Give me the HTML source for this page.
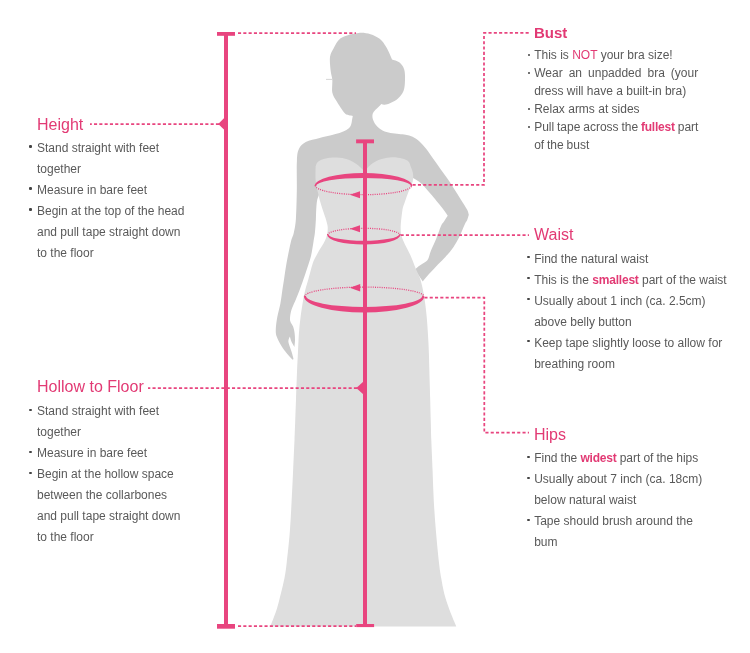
<!DOCTYPE html>
<html><head><meta charset="utf-8"><title>How to measure</title>
<style>
html,body{margin:0;padding:0;background:#fff}
#w{will-change:transform;position:relative;width:750px;height:653px;overflow:hidden;background:#fff;font-family:"Liberation Sans",Arial,sans-serif;color:#595959}
.t{position:absolute;font-size:16px;line-height:20px;color:#e23a74;white-space:nowrap;margin:0;font-weight:normal}
.b{position:absolute;font-size:12px;line-height:21px;margin:0;padding:0;list-style:none;white-space:nowrap}
.b li{position:relative;padding-left:7px}
.b li i{position:absolute;left:var(--bx);top:var(--by);width:2.4px;height:2.4px;border-radius:1.1px;background:#444;}
.p{color:#e23a74}
b.p{letter-spacing:-0.2px}
</style></head><body>
<div id="w">
<svg width="750" height="653" viewBox="0 0 750 653" style="position:absolute;left:0;top:0">
<path d="M350.6 34.2 C352.4 34.0 358.0 32.7 361.3 32.7 C364.6 32.7 367.4 33.2 370.5 34.2 C373.6 35.2 377.1 36.8 379.7 38.8 C382.3 40.8 384.2 43.9 385.9 46.4 C387.6 48.9 388.7 51.8 389.7 54.0 C390.7 56.2 391.6 58.6 392.0 59.5 C393.3 60.0 397.6 60.9 399.6 62.5 C401.6 64.2 403.3 66.5 404.2 69.4 C405.1 72.3 405.1 76.4 405.0 80.0 C404.9 83.6 404.7 87.8 403.5 90.9 C402.3 94.0 399.9 96.6 398.0 98.5 C396.1 100.4 394.0 101.3 392.0 102.3 C390.0 103.3 387.7 104.3 385.9 104.6 C384.1 104.9 382.1 104.0 381.3 103.9 C380.7 104.6 379.0 106.5 377.7 107.8 C376.4 109.1 374.5 110.6 373.6 112.0 C372.7 113.4 372.3 114.7 372.4 116.3 C372.4 117.9 373.0 119.9 373.9 121.7 C374.8 123.5 376.2 125.5 377.7 127.0 C379.2 128.5 380.9 129.7 383.0 130.7 C385.1 131.7 387.8 132.4 390.5 132.9 C393.2 133.4 396.5 133.6 399.0 133.9 C401.5 134.2 403.4 134.2 405.7 134.7 C408.0 135.2 410.3 135.7 412.6 136.8 C414.9 137.9 417.2 139.4 419.5 141.5 C421.8 143.6 424.0 146.2 426.3 149.1 C428.6 152.0 430.9 155.6 433.2 158.8 C435.5 162.0 437.8 165.2 440.1 168.4 C442.4 171.6 444.7 174.8 447.0 178.1 C449.3 181.4 451.6 184.8 453.9 188.4 C456.2 192.0 458.6 195.8 460.8 199.4 C463.0 203.0 465.9 207.2 467.2 209.8 C468.5 212.4 468.5 214.0 468.8 214.8 C468.5 215.7 467.9 218.4 467.2 220.0 C466.5 221.6 466.0 221.7 464.7 224.5 C463.4 227.3 461.3 233.0 459.4 236.8 C457.5 240.6 455.5 244.2 453.2 247.5 C450.9 250.8 448.2 253.9 445.6 256.7 C443.1 259.5 440.5 261.7 437.9 264.4 C435.3 267.1 432.7 270.0 430.2 272.8 C427.7 275.6 424.0 280.0 422.8 281.4 L415.0 270.0 C415.4 269.6 415.7 268.6 417.2 267.4 C418.7 266.2 422.3 264.1 424.1 262.8 C425.9 261.5 426.9 261.3 428.0 259.3 C429.1 257.3 429.6 254.1 431.0 250.6 C432.4 247.1 434.7 242.4 436.4 238.3 C438.1 234.2 439.7 228.8 441.0 226.0 C442.3 223.2 442.9 223.2 444.0 221.5 C445.1 219.8 447.1 216.8 447.7 215.8 C447.0 214.8 446.0 212.8 443.4 209.5 C440.8 206.2 436.0 200.2 432.3 195.8 C428.6 191.5 424.5 186.4 421.3 183.4 C418.1 180.4 414.4 178.8 413.0 177.9 L405.0 192.0 L322.0 192.0 L318.6 195.5 C318.3 196.4 317.4 198.6 317.0 201.0 C316.6 203.4 316.4 207.0 316.2 210.0 C316.0 213.0 316.1 215.2 315.9 219.0 C315.7 222.8 315.3 229.1 314.9 232.8 C314.5 236.5 314.2 237.1 313.6 241.0 C313.0 244.9 312.0 251.7 311.0 256.0 C310.0 260.3 308.7 263.7 307.6 267.0 C306.5 270.3 305.9 272.3 304.6 276.0 C303.3 279.7 301.5 285.0 300.0 289.0 C298.5 293.0 296.7 297.3 295.6 300.0 C294.5 302.7 294.2 303.1 293.4 305.0 C292.6 306.9 291.6 308.9 291.0 311.5 C290.4 314.1 289.7 318.1 290.1 320.6 C290.5 323.2 292.4 324.7 293.2 326.8 C293.9 328.9 294.3 330.8 294.6 333.0 C294.9 335.2 295.0 337.7 295.0 340.0 C295.0 342.3 294.5 345.8 294.4 347.0 C293.9 346.1 292.2 343.2 291.4 341.5 C290.6 339.8 290.1 337.4 289.8 336.6 C289.6 337.5 288.1 339.6 288.4 342.0 C288.7 344.4 290.6 348.6 291.4 351.3 C292.2 354.1 293.2 357.1 293.4 358.5 C293.6 359.9 292.7 359.6 292.6 359.8 C291.7 358.8 289.0 356.1 287.1 353.7 C285.2 351.3 282.7 348.0 281.0 345.2 C279.3 342.4 277.6 339.3 276.7 336.6 C275.8 333.9 275.7 332.5 275.8 329.2 C275.9 325.9 276.5 321.3 277.3 317.0 C278.1 312.7 279.6 307.8 280.4 303.5 C281.2 299.2 281.6 295.3 282.2 291.2 C282.8 287.1 283.4 283.6 284.1 279.0 C284.8 274.4 285.4 269.4 286.5 263.3 C287.6 257.2 289.6 247.3 290.8 242.2 C292.0 237.1 293.0 236.7 293.8 232.8 C294.6 228.9 295.4 225.9 295.9 219.0 C296.4 212.1 296.6 201.0 296.8 191.4 C297.0 181.8 296.5 168.4 296.9 161.3 C297.2 154.2 297.4 152.2 298.9 149.0 C300.4 145.8 302.4 143.8 305.8 142.0 C309.2 140.2 315.1 139.2 319.6 138.0 C324.1 136.8 329.4 135.8 333.0 134.8 C336.6 133.9 338.9 133.2 341.4 132.3 C343.9 131.4 346.2 130.3 347.8 129.1 C349.4 127.9 350.3 126.5 351.0 124.9 C351.7 123.3 351.8 121.0 352.1 119.5 C352.4 118.0 352.7 116.6 352.8 116.0 C352.1 115.9 350.3 115.8 348.9 115.3 C347.5 114.8 346.6 115.4 344.6 113.1 C342.6 110.8 338.9 105.0 336.8 101.6 C334.8 98.1 333.1 96.0 332.3 92.4 C331.6 88.8 332.6 83.6 332.3 80.0 C332.0 76.4 331.1 74.8 330.7 71.0 C330.3 67.2 329.5 60.8 330.0 57.0 C330.5 53.2 332.1 51.0 333.8 48.0 C335.5 45.0 337.2 41.1 340.0 38.8 C342.8 36.5 348.8 35.0 350.6 34.2 Z" fill="#cbcbcb"/>
<path d="M326 79.4H332" stroke="#cbcbcb" stroke-width="0.8" fill="none"/>
<path d="M315.6 166.5 C316.0 165.7 316.3 163.0 318.0 161.7 C319.7 160.4 322.9 159.2 326.0 158.5 C329.1 157.8 333.1 157.4 336.8 157.6 C340.5 157.8 344.6 158.3 348.0 159.5 C351.4 160.7 354.2 162.5 357.0 164.5 C359.8 166.5 363.2 170.2 364.5 171.4 C365.6 170.2 368.4 166.5 371.0 164.5 C373.6 162.5 376.5 160.7 380.0 159.5 C383.5 158.3 388.3 157.4 392.0 157.2 C395.7 157.0 399.2 157.8 402.0 158.5 C404.8 159.2 407.1 160.2 408.5 161.5 C409.9 162.8 410.2 165.2 410.5 166.0 C410.9 167.2 412.5 170.4 412.9 173.0 C413.3 175.6 413.4 178.4 412.7 181.5 C412.0 184.6 409.9 188.3 408.6 191.6 C407.3 194.9 406.1 198.3 405.0 201.5 C403.9 204.7 403.0 206.2 402.3 211.0 C401.6 215.8 400.5 225.0 400.7 230.0 C400.9 235.0 401.8 236.8 403.4 241.0 C405.0 245.2 408.2 250.4 410.3 255.0 C412.4 259.6 414.1 264.6 415.8 268.8 C417.5 273.0 419.2 275.2 420.6 280.0 C422.0 284.8 423.3 291.4 424.3 297.5 C425.3 303.6 426.1 310.6 426.7 316.8 C427.3 323.1 427.6 328.9 428.0 335.0 C428.4 341.1 428.7 347.3 428.9 353.5 C429.1 359.7 429.2 364.3 429.4 372.0 C429.6 379.7 430.0 391.2 430.2 399.5 C430.4 407.8 430.6 415.1 430.8 421.8 C431.0 428.6 431.0 431.9 431.3 440.0 C431.6 448.1 432.2 460.5 432.6 470.7 C433.0 480.9 433.2 491.1 433.8 501.3 C434.4 511.5 435.1 521.8 436.0 532.0 C436.9 542.2 438.1 555.0 439.0 562.7 C439.9 570.4 440.3 572.9 441.2 578.0 C442.1 583.1 442.9 588.3 444.2 593.4 C445.5 598.5 447.4 603.9 449.1 608.7 C450.8 613.5 453.2 619.0 454.4 622.0 C455.6 625.0 456.0 625.8 456.3 626.6 L270.3 626.6 C270.6 625.8 270.9 625.0 272.0 622.0 C273.1 619.0 275.4 613.5 276.9 608.7 C278.4 603.9 279.6 598.5 280.9 593.4 C282.2 588.3 283.5 583.1 284.5 578.0 C285.5 572.9 285.8 570.4 286.7 562.7 C287.6 555.0 289.0 542.2 289.8 532.0 C290.6 521.8 291.1 511.5 291.6 501.3 C292.2 491.1 292.6 480.9 293.1 470.7 C293.6 460.5 294.1 448.1 294.5 440.0 C294.9 431.9 294.9 428.6 295.2 421.8 C295.4 415.1 295.7 407.8 296.0 399.5 C296.3 391.2 296.7 379.7 297.0 372.0 C297.3 364.3 297.6 359.7 297.9 353.5 C298.2 347.3 298.4 341.1 298.8 335.0 C299.2 328.9 299.8 322.9 300.6 316.8 C301.4 310.7 302.6 303.0 303.4 298.4 C304.2 293.8 304.7 292.1 305.5 289.0 C306.3 285.9 307.1 283.8 308.3 279.5 C309.5 275.2 311.4 267.3 312.7 263.4 C314.0 259.5 314.8 258.6 316.0 256.3 C317.2 254.0 318.4 251.6 319.7 249.5 C320.9 247.4 322.4 245.5 323.5 243.5 C324.6 241.5 325.6 239.5 326.3 237.6 C327.0 235.7 327.3 233.9 327.5 232.0 C327.7 230.1 327.9 228.3 327.6 226.0 C327.3 223.7 326.3 220.7 325.5 218.0 C324.7 215.3 323.6 212.6 322.7 209.8 C321.8 207.0 320.9 204.1 320.0 201.0 C319.1 197.9 318.3 194.5 317.6 191.0 C316.9 187.5 315.9 184.1 315.6 180.0 C315.3 175.9 315.6 168.8 315.6 166.5 Z" fill="#dedede"/>
<g fill="#e8457f" stroke="none">
 <!-- height bar -->
 <rect x="224" y="33" width="4" height="593"/>
 <rect x="217" y="32" width="18" height="3.8"/>
 <rect x="217" y="624" width="18" height="4.7"/>
 <path d="M218.2 124L224.2 118.1V129.7Z"/>
 <!-- hollow bar -->
 <rect x="363" y="140" width="4" height="486"/>
 <rect x="356.1" y="139.4" width="17.9" height="3.9"/>
 <rect x="356.2" y="624" width="17.9" height="3.1"/>
 <path d="M356.3 388L363.2 381.7V394.3Z"/>
 <!-- ellipse arrows -->
 <path d="M349.8 194.7L360 191.3V198.2Z"/>
 <path d="M349.8 228.7L360 225.3V232.2Z"/>
 <path d="M349.8 287.7L360.2 284V291.5Z"/>
 <!-- crescents -->
 <path d="M314.6 185.8 A48.9 12.8 0 0 1 412.4 185.8 L411 186.2 A47.5 8.3 0 0 0 316 186.2Z"/>
 <path d="M327.1 234.6 A36.7 10 0 0 0 400.5 234.6 L399.2 234.2 A35.4 6.6 0 0 1 328.4 234.2Z"/>
 <path d="M303.9 296.2 A60.2 16.4 0 0 0 424.3 296.2 L422.3 295.8 A58.2 11.1 0 0 1 305.9 295.8Z"/>
</g>
<g fill="none" stroke="#e8457f" stroke-width="1.3" stroke-dasharray="1 1.2">
 <path d="M315.3 185.5 A48.2 9.2 0 0 0 411.7 185.5"/>
 <path d="M327.6 235 A36.2 6.7 0 0 1 400 235"/>
 <path d="M304.5 296.5 A59.7 9.4 0 0 1 423.9 296.5"/>
</g>
<g fill="none" stroke="#e8457f" stroke-width="1.75" stroke-dasharray="3.1 2.2">
 <path d="M238 33.1H356"/>
 <path d="M238 626H356"/>
 <path d="M219 124H90"/>
 <path d="M357 388H148"/>
 <path d="M412.6 184.9H484V32.9H529"/>
 <path d="M400.6 235.1H529"/>
 <path d="M424.4 297.5H484.3V432.6H529"/>
</g>

</svg>
<h3 class="t" style="left:37px;top:114.7px">Height</h3>
<ul class="b" style="--bx:-0.8px;--by:6.8px;left:30px;top:138.4px">
<li><i></i>Stand straight with feet<br>together</li>
<li><i></i>Measure in bare feet</li>
<li><i></i>Begin at the top of the head<br>and pull tape straight down<br>to the floor</li>
</ul>
<h3 class="t" style="left:37px;top:376.7px">Hollow to Floor</h3>
<ul class="b" style="--bx:-0.8px;--by:8.3px;left:30px;top:400.8px">
<li><i></i>Stand straight with feet<br>together</li>
<li><i></i>Measure in bare feet</li>
<li><i></i>Begin at the hollow space<br>between the collarbones<br>and pull tape straight down<br>to the floor</li>
</ul>
<h3 class="t" style="left:534px;top:23px;font-weight:bold;font-size:15px">Bust</h3>
<ul class="b" style="--bx:0.7px;--by:7.7px;left:527.2px;top:46.1px;line-height:18px">
<li><i></i>This is <span class="p">NOT</span> your bra size!</li>
<li><i></i><span style="word-spacing:2.7px">Wear an unpadded bra (your</span><br>dress will have a built-in bra)</li>
<li><i></i>Relax arms at sides</li>
<li style="word-spacing:-0.5px"><i></i>Pull tape across the <b class="p">fullest</b> part<br>of the bust</li>
</ul>
<h3 class="t" style="left:534px;top:225px">Waist</h3>
<ul class="b" style="--bx:0.1px;--by:7.6px;left:527.2px;top:248.5px">
<li><i></i>Find the natural waist</li>
<li><i></i>This is the <b class="p">smallest</b> part of the waist</li>
<li><i></i>Usually about 1 inch (ca. 2.5cm)<br>above belly button</li>
<li><i></i>Keep tape slightly loose to allow for<br>breathing room</li>
</ul>
<h3 class="t" style="left:534px;top:425px">Hips</h3>
<ul class="b" style="--bx:0.1px;--by:7.8px;left:527.2px;top:448.3px">
<li style="word-spacing:-0.25px"><i></i>Find the <b class="p">widest</b> part of the hips</li>
<li><i></i>Usually about 7 inch (ca. 18cm)<br>below natural waist</li>
<li><i></i>Tape should brush around the<br>bum</li>
</ul>
</div>
</body></html>
